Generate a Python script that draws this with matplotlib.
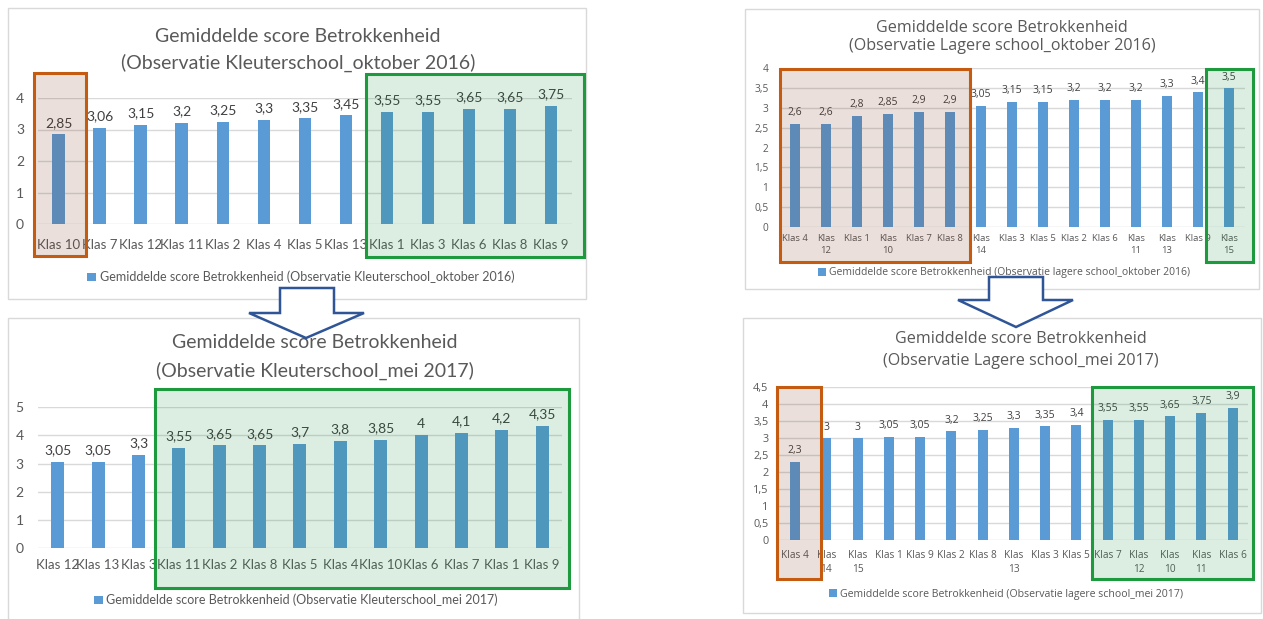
import matplotlib
matplotlib.use("Agg")
import matplotlib.pyplot as plt
from matplotlib.patches import Rectangle, Polygon
from matplotlib.transforms import blended_transform_factory

# ---- data -------------------------------------------------------------
titel = "Gemiddelde score Betrokkenheid"

kleuter_okt_klassen = ["Klas 10", "Klas 7", "Klas 12", "Klas 11", "Klas 2", "Klas 4", "Klas 5",
                       "Klas 13", "Klas 1", "Klas 3", "Klas 6", "Klas 8", "Klas 9"]
kleuter_okt_scores = [2.85, 3.06, 3.15, 3.2, 3.25, 3.3, 3.35, 3.45, 3.55, 3.55, 3.65, 3.65, 3.75]

lager_okt_klassen = ["Klas 4", "Klas\n12", "Klas 1", "Klas\n10", "Klas 7", "Klas 8", "Klas\n14",
                     "Klas 3", "Klas 5", "Klas 2", "Klas 6", "Klas\n11", "Klas\n13", "Klas 9", "Klas\n15"]
lager_okt_scores = [2.6, 2.6, 2.8, 2.85, 2.9, 2.9, 3.05, 3.15, 3.15, 3.2, 3.2, 3.2, 3.3, 3.4, 3.5]

kleuter_mei_klassen = ["Klas 12", "Klas 13", "Klas 3", "Klas 11", "Klas 2", "Klas 8", "Klas 5",
                       "Klas 4", "Klas 10", "Klas 6", "Klas 7", "Klas 1", "Klas 9"]
kleuter_mei_scores = [3.05, 3.05, 3.3, 3.55, 3.65, 3.65, 3.7, 3.8, 3.85, 4, 4.1, 4.2, 4.35]

lager_mei_klassen = ["Klas 4", "Klas\n14", "Klas\n15", "Klas 1", "Klas 9", "Klas 2", "Klas 8",
                     "Klas\n13", "Klas 3", "Klas 5", "Klas 7", "Klas\n12", "Klas\n10", "Klas\n11", "Klas 6"]
lager_mei_scores = [2.3, 3, 3, 3.05, 3.05, 3.2, 3.25, 3.3, 3.35, 3.4, 3.55, 3.55, 3.65, 3.75, 3.9]

# ---- layout helpers (pixels of the 1263x619 picture) ------------------
W, H = 1263, 619


def fx(x):
    return x / W


def fy(y):
    return 1 - y / H


BLUE = "#5B9BD5"
GREY = "#595959"
GRID = "#D9D9D9"
ORANGE_EDGE = "#C55A11"
ORANGE_FILL = (0.46, 0.18, 0.05, 0.15)
GREEN_EDGE = "#1E9A3E"
GREEN_FILL = (0.05, 0.52, 0.19, 0.14)
ARROW = "#2F5597"


def fmt(v):
    return f"{v:g}".replace(".", ",")


fig = plt.figure(figsize=(W / 100, H / 100), dpi=100)

panels = [
    dict(klassen=kleuter_okt_klassen, scores=kleuter_okt_scores,
         sub="(Observatie Kleuterschool_oktober 2016)",
         leg="Gemiddelde score Betrokkenheid (Observatie Kleuterschool_oktober 2016)",
         border=(8, 8, 586, 299), ax=(38, 98, 571.5, 224), ymax=4, ystep=1,
         title_xy=(298, 37, 63), leg_xy=(301, 277), font="Lato",
         fs_title=14, fs_tick=9.5, fs_lab=10, fs_leg=9, width=0.3, xpad=11, ypad=10,
         boxes=[(-0.6, 0.67, -0.254, 1.20, "o"), (7.49, 12.8, -0.262, 1.19, "g")]),
    dict(klassen=lager_okt_klassen, scores=lager_okt_scores,
         sub="(Observatie Lagere school_oktober 2016)",
         leg="Gemiddelde score Betrokkenheid (Observatie lagere school_oktober 2016)",
         border=(745, 9, 1259, 289), ax=(779.5, 68.3, 1244.5, 226.7), ymax=4, ystep=0.5,
         title_xy=(1002, 28, 46), leg_xy=(1004, 273), font="Open Sans",
         fs_title=11.6, fs_tick=6.8, fs_lab=7.5, fs_leg=7.5, width=0.34, xpad=5, ypad=8,
         boxes=[(-0.48, 5.65, -0.223, 0.996, "o"), (13.26, 14.77, -0.223, 0.996, "g")]),
    dict(klassen=kleuter_mei_klassen, scores=kleuter_mei_scores,
         sub="(Observatie Kleuterschool_mei 2017)",
         leg="Gemiddelde score Betrokkenheid (Observatie Kleuterschool_mei 2017)",
         border=(8, 318, 579, 625), ax=(37.5, 407.3, 562.4, 548), ymax=5, ystep=1,
         title_xy=(315, 343, 371), leg_xy=(296, 600), font="Lato",
         fs_title=14, fs_tick=9.5, fs_lab=10, fs_leg=9, width=0.32, xpad=8, ypad=10,
         boxes=[(2.42, 12.66, -0.284, 1.13, "g")]),
    dict(klassen=lager_mei_klassen, scores=lager_mei_scores,
         sub="(Observatie Lagere school_mei 2017)",
         leg="Gemiddelde score Betrokkenheid (Observatie lagere school_mei 2017)",
         border=(743, 318, 1261, 613), ax=(779.4, 387.3, 1248.3, 540), ymax=4.5, ystep=0.5,
         title_xy=(1021, 339, 361), leg_xy=(1006, 594), font="Open Sans",
         fs_title=11.6, fs_tick=7.3, fs_lab=7.5, fs_leg=7.6, width=0.32, xpad=7, ypad=8,
         boxes=[(-0.58, 0.83, -0.255, 1.0, "o"), (9.5, 14.65, -0.255, 1.0, "g")]),
]

for p in panels:
    # panel frame
    x0, y0, x1, y1 = p["border"]
    fig.patches.append(Rectangle((fx(x0), fy(y1)), (x1 - x0) / W, (y1 - y0) / H,
                                 transform=fig.transFigure, facecolor="white",
                                 edgecolor=GRID, lw=1, zorder=-1))
    l, t, r, b = p["ax"]
    ax = fig.add_axes([fx(l), fy(b), (r - l) / W, (b - t) / H])
    ax.set_zorder(1)
    ax.set_facecolor("none")
    n = len(p["klassen"])
    xs = list(range(n))
    bars = ax.bar(xs, p["scores"], width=p["width"], color=BLUE, zorder=2)
    for xi, v in zip(xs, p["scores"]):
        ax.annotate(fmt(v), (xi, v), xytext=(0, 4), textcoords="offset points",
                    ha="center", va="bottom", fontsize=p["fs_lab"], color="#404040",
                    family=p["font"], zorder=3)
    ax.set_xlim(-0.5, n - 0.5)
    ax.set_ylim(0, p["ymax"])
    ticks = []
    v = 0.0
    while v <= p["ymax"] + 1e-9:
        ticks.append(round(v, 2))
        v += p["ystep"]
    ax.set_yticks(ticks)
    ax.set_yticklabels([fmt(t) for t in ticks], family=p["font"], fontsize=p["fs_tick"] + 0.5,
                       color=GREY)
    ax.set_xticks(xs)
    ax.set_xticklabels(p["klassen"], family=p["font"], fontsize=p["fs_tick"], color=GREY,
                       linespacing=1.45)
    ax.tick_params(axis="both", length=0)
    ax.tick_params(axis="x", pad=p["xpad"])
    ax.tick_params(axis="y", pad=p["ypad"])
    ax.grid(axis="y", color=GRID, lw=1, zorder=0)
    ax.set_axisbelow(True)
    for s in ax.spines.values():
        s.set_visible(False)

    # highlight boxes
    tr = blended_transform_factory(ax.transData, ax.transAxes)
    for bx0, bx1, by0, by1, kind in p["boxes"]:
        fc, ec = (ORANGE_FILL, ORANGE_EDGE) if kind == "o" else (GREEN_FILL, GREEN_EDGE)
        ax.add_patch(Rectangle((bx0, by0), bx1 - bx0, by1 - by0, transform=tr,
                               facecolor=fc, edgecolor=ec, lw=2.2, clip_on=False, zorder=4))

    # title and legend
    tx, ty1, ty2 = p["title_xy"]
    fig.text(fx(tx), fy(ty1), titel, ha="center", va="center", fontsize=p["fs_title"],
             color=GREY, family=p["font"])
    fig.text(fx(tx), fy(ty2), p["sub"], ha="center", va="center", fontsize=p["fs_title"],
             color=GREY, family=p["font"])
    lx, ly = p["leg_xy"]
    fig.legend([bars], [p["leg"]], loc="center", bbox_to_anchor=(fx(lx), fy(ly)),
               frameon=False, handlelength=0.7, handleheight=0.7, handletextpad=0.3,
               prop=dict(family=p["font"], size=p["fs_leg"]), labelcolor=GREY)

# block arrows between the charts
arrows = [
    dict(shaft=(280, 334), top=288, base=313, head=(249, 364), tip=(306, 338)),
    dict(shaft=(989, 1043), top=277, base=300, head=(958, 1073), tip=(1016, 327)),
]
for a in arrows:
    sl, sr = a["shaft"]
    hl, hr = a["head"]
    pts = [(sl, a["top"]), (sr, a["top"]), (sr, a["base"]), (hr, a["base"]),
           a["tip"], (hl, a["base"]), (sl, a["base"])]
    fig.patches.append(Polygon([(fx(x), fy(y)) for x, y in pts], closed=True,
                               transform=fig.transFigure, facecolor="white",
                               edgecolor=ARROW, lw=1.8, zorder=10))

fig.savefig("out.png", dpi=100)
